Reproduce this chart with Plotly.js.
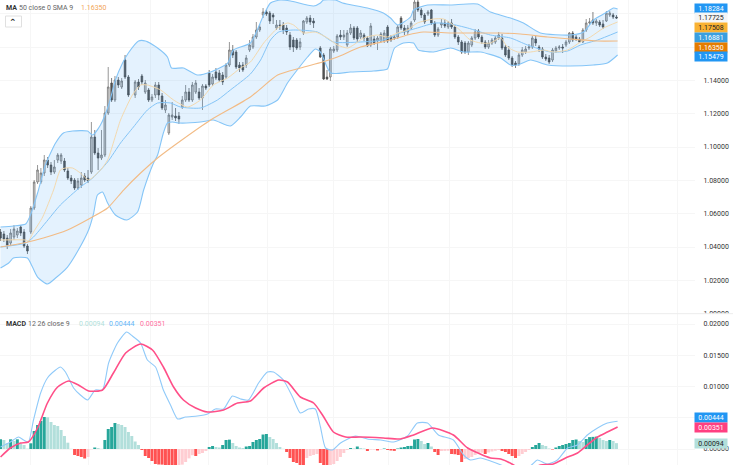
<!DOCTYPE html>
<html><head><meta charset="utf-8">
<script src="https://cdn.plot.ly/plotly-3.0.1.min.js"></script>
<style>html,body{margin:0;padding:0;background:#fff}#c{width:733px;height:465px}</style>
</head><body><div id="c"></div>
<script>
const opens=[1.0490,1.0478,1.0454,1.0424,1.0460,1.0472,1.0520,1.0490,1.0406,1.0490,1.0634,1.0790,1.0790,1.0844,1.0922,1.0892,1.0850,1.0922,1.0916,1.0916,1.0856,1.0814,1.0802,1.0754,1.0772,1.0826,1.0814,1.0850,1.1060,1.0964,1.0934,1.0952,1.1204,1.1384,1.1282,1.1402,1.1360,1.1522,1.1420,1.1312,1.1390,1.1426,1.1330,1.1342,1.1282,1.1312,1.1372,1.1306,1.1222,1.1084,1.1180,1.1186,1.1186,1.1240,1.1282,1.1330,1.1282,1.1330,1.1330,1.1294,1.1366,1.1444,1.1378,1.1450,1.1444,1.1432,1.1420,1.1492,1.1582,1.1570,1.1492,1.1492,1.1492,1.1582,1.1600,1.1660,1.1702,1.1792,1.1810,1.1804,1.1792,1.1714,1.1732,1.1732,1.1714,1.1672,1.1642,1.1642,1.1600,1.1684,1.1750,1.1774,1.1756,1.1594,1.1552,1.1420,1.1420,1.1576,1.1582,1.1672,1.1660,1.1612,1.1684,1.1714,1.1714,1.1660,1.1672,1.1654,1.1612,1.1648,1.1636,1.1636,1.1636,1.1720,1.1660,1.1654,1.1660,1.1774,1.1714,1.1690,1.1714,1.1762,1.1870,1.1822,1.1792,1.1798,1.1822,1.1744,1.1672,1.1732,1.1744,1.1720,1.1744,1.1720,1.1660,1.1630,1.1624,1.1570,1.1612,1.1654,1.1696,1.1660,1.1630,1.1600,1.1624,1.1630,1.1654,1.1654,1.1600,1.1582,1.1534,1.1504,1.1498,1.1552,1.1570,1.1594,1.1600,1.1648,1.1600,1.1588,1.1540,1.1534,1.1522,1.1576,1.1594,1.1600,1.1612,1.1630,1.1684,1.1660,1.1648,1.1630,1.1702,1.1744,1.1762,1.1744,1.1750,1.1738,1.1756,1.1792,1.1792,1.1780];
const highs=[1.0508,1.0496,1.0472,1.0508,1.0532,1.0514,1.0532,1.0508,1.0418,1.0646,1.0802,1.0892,1.0874,1.0952,1.0940,1.0910,1.0922,1.0964,1.0964,1.0934,1.0874,1.0832,1.0814,1.0814,1.0850,1.0844,1.0862,1.1150,1.1102,1.0994,1.1102,1.1246,1.1480,1.1414,1.1426,1.1420,1.1414,1.1552,1.1432,1.1402,1.1408,1.1438,1.1402,1.1354,1.1318,1.1390,1.1390,1.1324,1.1282,1.1204,1.1270,1.1234,1.1210,1.1306,1.1372,1.1354,1.1390,1.1402,1.1354,1.1378,1.1378,1.1462,1.1438,1.1474,1.1462,1.1450,1.1504,1.1630,1.1612,1.1582,1.1510,1.1510,1.1552,1.1642,1.1678,1.1750,1.1738,1.1834,1.1822,1.1816,1.1804,1.1762,1.1762,1.1750,1.1732,1.1690,1.1660,1.1654,1.1654,1.1762,1.1786,1.1792,1.1774,1.1606,1.1564,1.1462,1.1600,1.1606,1.1678,1.1702,1.1702,1.1702,1.1738,1.1726,1.1726,1.1702,1.1684,1.1666,1.1744,1.1666,1.1666,1.1690,1.1702,1.1732,1.1672,1.1672,1.1732,1.1786,1.1732,1.1732,1.1756,1.1882,1.1882,1.1834,1.1804,1.1822,1.1828,1.1756,1.1720,1.1768,1.1768,1.1756,1.1768,1.1732,1.1672,1.1642,1.1636,1.1636,1.1666,1.1708,1.1708,1.1672,1.1642,1.1642,1.1654,1.1666,1.1690,1.1678,1.1612,1.1606,1.1546,1.1516,1.1564,1.1600,1.1606,1.1618,1.1666,1.1666,1.1612,1.1600,1.1558,1.1552,1.1594,1.1606,1.1612,1.1618,1.1642,1.1690,1.1696,1.1672,1.1660,1.1714,1.1768,1.1774,1.1810,1.1768,1.1762,1.1762,1.1816,1.1816,1.1804,1.1792];
const lows=[1.0436,1.0430,1.0388,1.0406,1.0442,1.0454,1.0466,1.0394,1.0358,1.0478,1.0622,1.0778,1.0778,1.0826,1.0874,1.0832,1.0838,1.0904,1.0898,1.0850,1.0802,1.0778,1.0742,1.0742,1.0754,1.0790,1.0784,1.0838,1.0952,1.0862,1.0922,1.0940,1.1192,1.1270,1.1270,1.1354,1.1348,1.1408,1.1300,1.1294,1.1342,1.1372,1.1318,1.1270,1.1270,1.1294,1.1282,1.1222,1.1204,1.1072,1.1162,1.1156,1.1138,1.1228,1.1270,1.1270,1.1270,1.1318,1.1282,1.1222,1.1342,1.1360,1.1366,1.1402,1.1390,1.1372,1.1408,1.1480,1.1534,1.1468,1.1450,1.1450,1.1474,1.1570,1.1588,1.1648,1.1690,1.1774,1.1786,1.1738,1.1738,1.1702,1.1702,1.1678,1.1672,1.1582,1.1570,1.1582,1.1582,1.1672,1.1738,1.1732,1.1714,1.1534,1.1402,1.1402,1.1396,1.1564,1.1570,1.1642,1.1642,1.1600,1.1672,1.1642,1.1630,1.1648,1.1636,1.1600,1.1600,1.1612,1.1582,1.1624,1.1624,1.1624,1.1630,1.1642,1.1648,1.1702,1.1672,1.1672,1.1702,1.1750,1.1810,1.1774,1.1738,1.1786,1.1732,1.1660,1.1660,1.1714,1.1714,1.1708,1.1708,1.1648,1.1612,1.1558,1.1558,1.1552,1.1600,1.1642,1.1648,1.1618,1.1588,1.1588,1.1612,1.1618,1.1642,1.1582,1.1540,1.1522,1.1480,1.1474,1.1486,1.1540,1.1558,1.1582,1.1588,1.1606,1.1570,1.1528,1.1516,1.1498,1.1510,1.1564,1.1582,1.1564,1.1600,1.1618,1.1630,1.1636,1.1624,1.1624,1.1690,1.1732,1.1732,1.1726,1.1720,1.1708,1.1750,1.1780,1.1768,1.1768];
const closes=[1.0454,1.0448,1.0412,1.0484,1.0508,1.0496,1.0484,1.0406,1.0376,1.0634,1.0790,1.0862,1.0844,1.0922,1.0892,1.0850,1.0880,1.0952,1.0952,1.0862,1.0814,1.0796,1.0754,1.0796,1.0814,1.0802,1.0796,1.1060,1.0964,1.0934,1.0952,1.1204,1.1360,1.1282,1.1402,1.1372,1.1396,1.1420,1.1312,1.1390,1.1360,1.1390,1.1384,1.1282,1.1300,1.1372,1.1312,1.1234,1.1252,1.1192,1.1192,1.1174,1.1168,1.1282,1.1330,1.1282,1.1372,1.1384,1.1294,1.1366,1.1354,1.1372,1.1420,1.1414,1.1402,1.1390,1.1492,1.1582,1.1552,1.1480,1.1474,1.1462,1.1534,1.1612,1.1660,1.1702,1.1720,1.1810,1.1798,1.1756,1.1780,1.1732,1.1726,1.1702,1.1690,1.1600,1.1600,1.1594,1.1630,1.1756,1.1774,1.1750,1.1744,1.1540,1.1408,1.1408,1.1588,1.1588,1.1666,1.1660,1.1672,1.1684,1.1714,1.1654,1.1648,1.1684,1.1654,1.1606,1.1726,1.1624,1.1654,1.1678,1.1684,1.1636,1.1642,1.1660,1.1720,1.1714,1.1690,1.1714,1.1744,1.1870,1.1822,1.1792,1.1750,1.1810,1.1744,1.1672,1.1708,1.1744,1.1726,1.1744,1.1720,1.1660,1.1630,1.1570,1.1570,1.1624,1.1654,1.1690,1.1660,1.1630,1.1600,1.1624,1.1642,1.1654,1.1672,1.1594,1.1552,1.1534,1.1492,1.1492,1.1552,1.1582,1.1588,1.1600,1.1654,1.1624,1.1588,1.1540,1.1528,1.1510,1.1582,1.1594,1.1600,1.1594,1.1630,1.1684,1.1642,1.1648,1.1630,1.1702,1.1744,1.1750,1.1744,1.1756,1.1732,1.1720,1.1804,1.1804,1.1780,1.1774];
const histValues=[155,144,91,155,128,155,91,64,5,91,288,384,448,512,507,432,384,368,304,208,101,3,-96,-112,-128,-152,-128,-5,24,16,3,144,320,352,416,400,384,352,272,208,120,64,-16,-112,-144,-192,-240,-248,-250,-258,-266,-274,-282,-270,-250,-208,-150,-100,-112,-80,-64,-32,32,48,32,24,64,144,150,96,48,24,16,40,48,112,144,160,232,240,192,160,96,32,3,-48,-144,-208,-224,-256,-270,-144,-112,-96,-80,-224,-256,-270,-256,-240,-192,-128,-64,-16,16,8,40,16,8,-32,-8,-8,-24,-8,8,-16,-24,-30,8,24,32,48,50,152,160,128,80,96,40,-48,-96,-32,-30,-28,-80,-84,-96,-208,-160,-144,-128,-96,-64,-60,-80,-56,-40,-28,-16,-32,-48,-80,-112,-144,-112,-80,-48,-16,32,64,96,64,48,8,-8,24,48,64,80,96,144,152,128,112,160,190,194,198,176,144,128,144,128,94].map(v=>v/100000);
const closedSlots=[39,94];

const upperX=[0,3.8,7.4,8.8,10.9,13.2,16.2,18.5,21.2,25.6,27.1,29.4,31.8,33.8,35.9,37.6,40.6,42.6,46.2,49.1,50.3,53.8,57.9,61.8,66.8,68.5,73.5,77.4,79.4,82.4,85.3,92.1,94.1,95,98.5,100.6,107.9,112.6,114.7,116.8,120.6,121.5,125.6,132.4,140.3,144.1,150,153.8,158.8,167.6,171.5,174.4,177.9,180.3,181.5];
const upperBand=[1.0520,1.0526,1.0538,1.0592,1.0724,1.0892,1.1024,1.1084,1.1096,1.1096,1.1072,1.1132,1.1252,1.1402,1.1504,1.1564,1.1636,1.1636,1.1594,1.1540,1.1474,1.1474,1.1432,1.1450,1.1504,1.1582,1.1624,1.1792,1.1864,1.1882,1.1876,1.1846,1.1864,1.1882,1.1882,1.1864,1.1834,1.1804,1.1774,1.1732,1.1780,1.1822,1.1852,1.1852,1.1858,1.1810,1.1774,1.1744,1.1684,1.1672,1.1690,1.1762,1.1804,1.1834,1.1828];
const lowerX=[0,2.4,3.8,7.9,9.4,10.9,13.8,16.2,19.7,22.9,25.9,27.4,28.5,30,31.5,33.8,37.1,40.3,42.1,45,46.2,47.9,49.1,50.6,52.4,58.8,62.6,67.6,70.6,73.5,77.9,81.5,84.4,86.8,90.3,92.6,94.1,97.1,102.9,109.7,113.8,114.7,115.9,118.5,121.5,122.9,127.4,132.4,136.2,141.2,147.1,150,152.1,155.9,160.9,167.6,174.4,178.5,181.5];
const lowerBand=[1.0274,1.0304,1.0334,1.0334,1.0280,1.0220,1.0178,1.0214,1.0280,1.0382,1.0502,1.0604,1.0712,1.0730,1.0664,1.0592,1.0562,1.0610,1.0742,1.0904,1.0952,1.1084,1.1144,1.1150,1.1144,1.1150,1.1162,1.1126,1.1180,1.1246,1.1246,1.1282,1.1384,1.1450,1.1540,1.1588,1.1570,1.1444,1.1450,1.1456,1.1468,1.1522,1.1594,1.1624,1.1624,1.1582,1.1570,1.1594,1.1570,1.1570,1.1534,1.1492,1.1492,1.1522,1.1492,1.1486,1.1492,1.1504,1.1552];
const basisX=[0,7.4,9.7,13.2,17.6,23.5,27.1,31.5,35.3,39.1,43.2,46.2,50,52.9,58.8,63.8,67.6,73.5,76.5,79.4,81.8,86.2,93.2,97.9,105.9,112.6,117.6,122.6,127.9,132.4,137.4,144.1,150,155,161.8,166.8,170.6,175.6,181.5];
const basisBand=[1.0400,1.0424,1.0460,1.0544,1.0652,1.0760,1.0814,1.0910,1.1024,1.1120,1.1222,1.1264,1.1264,1.1240,1.1234,1.1282,1.1342,1.1438,1.1522,1.1642,1.1690,1.1702,1.1690,1.1630,1.1630,1.1642,1.1684,1.1714,1.1744,1.1738,1.1714,1.1672,1.1654,1.1612,1.1570,1.1576,1.1612,1.1642,1.1690];
const ma9X=[0,7.4,8.2,9.7,12.4,15.6,17.6,19.1,21.2,23.5,25.9,29.4,31.5,35.3,38.8,41.2,43.2,47.1,50.9,55,58.8,62.6,66.8,70.6,73.5,77.4,81.5,84.4,86.2,89.1,92.6,96.2,99.1,102.1,103.8,106.8,110.9,113.8,116.8,119.7,122.6,127.4,130.3,134.4,138.2,141.2,144.1,147.1,149.1,152.1,155.9,159.7,162.6,166.8,170.6,173.5,177.4,181.5];
const ma9=[1.0442,1.0442,1.0436,1.0490,1.0580,1.0742,1.0862,1.0874,1.0874,1.0844,1.0802,1.0862,1.0922,1.1162,1.1312,1.1372,1.1372,1.1342,1.1282,1.1240,1.1282,1.1372,1.1414,1.1474,1.1510,1.1624,1.1714,1.1744,1.1732,1.1684,1.1690,1.1654,1.1612,1.1594,1.1612,1.1654,1.1672,1.1660,1.1684,1.1702,1.1744,1.1768,1.1768,1.1714,1.1642,1.1624,1.1624,1.1654,1.1600,1.1570,1.1570,1.1582,1.1570,1.1582,1.1630,1.1660,1.1714,1.1750];
const ma50X=[0,6.8,12.6,19.7,26.5,31.5,36.2,41.2,46.2,52.1,61.8,73.5,81.5,88.2,94.7,99.1,105.9,114.7,119.7,124.4,132.4,140.3,147.1,152.9,160.9,167.6,175.6,181.5];
const ma50=[1.0400,1.0424,1.0454,1.0502,1.0574,1.0634,1.0742,1.0844,1.0934,1.1024,1.1162,1.1300,1.1432,1.1474,1.1510,1.1540,1.1600,1.1642,1.1672,1.1690,1.1684,1.1684,1.1684,1.1678,1.1660,1.1648,1.1636,1.1636];
const macdX=[0,2.9,5.3,6.8,8.2,9.7,11.8,13.8,16.2,17.6,19.1,21.5,23.5,25.6,27.9,30,31.8,34.4,37.1,38.8,41.2,43.2,45.6,47.9,50,52.1,54.4,57.9,60.9,63.2,65.6,68.2,70.6,72.9,75.9,78.5,80.3,83.2,85.9,88.2,90.6,92.6,94.1,95.6,97.6,100,104.4,107.9,111.8,115.6,119.7,122.6,125.6,128.8,133.2,136.2,138.2,141.2,144.1,147.9,151.5,154.4,156.5,157.9,160.9,163.8,166.8,169.7,172.6,175.6,178.5,181.5];
const macdLine=[.00032,.00112,.00192,.00144,.00112,.00464,.00896,.01136,.01264,.01312,.01232,.00976,.00864,.00784,.00944,.00944,.01376,.01696,.01872,.01808,.01696,.01424,.01312,.00944,.00704,.00480,.00512,.00528,.00560,.00640,.00640,.00848,.00800,.00784,.01056,.01232,.01232,.01104,.00832,.00576,.00640,.00640,.00352,.00016,-.00016,.00096,.00208,.00160,.00144,.00112,.00208,.00416,.00416,.00224,.00144,-.00096,-.00176,-.00144,-.00192,-.00272,-.00368,-.00336,-.0024,-.00176,-.0024,-.00176,.00016,.00064,.00224,.00336,.00416,.00444];
const signalX=[0,2.9,5.9,8.2,10.9,13.8,16.8,20,22.9,25.9,30,33.2,36.8,41.2,44.7,47.9,50.9,53.8,57.4,60.9,65.6,69.7,73.5,77.4,81.8,84.4,88.2,92.1,94.7,97.9,101.5,105.9,112.6,117.6,121.5,127.1,133.2,137.4,144.1,147.1,150.9,153.8,158.8,162.6,166.2,169.7,172.6,175.6,178.5,181.5];
const signalLine=[-.00128,.00016,.00096,.00112,.00336,.00736,.00992,.01088,.01024,.00928,.00944,.01216,.01536,.01680,.01584,.01312,.00992,.00784,.00656,.00592,.00624,.00736,.00768,.00976,.01104,.01072,.00832,.00736,.00544,.00272,.00192,.00192,.00176,.00160,.00224,.00336,.00224,.00016,-.00144,-.0016,-.00256,-.00368,-.00256,-.0024,-.00144,-.00064,.00064,.00192,.00272,.00351];
const priceTicks=[1.00,1.02,1.04,1.06,1.08,1.10,1.12,1.14,1.16,1.18];
const priceTickText=["1.00000","1.02000","1.04000","1.06000","1.08000","1.10000","1.12000","1.14000","",""];
const macdTicks=[0,0.005,0.01,0.015,0.02];
const macdTickText=["0.00000","","0.01000","0.01500","0.02000"];
const timeGrid=[8.8,25.9,44.1,61.2,78.5,97.9,114.1,132.1,150.6,166.5,184.7,199.1];
const priceTags=["1.18284","1.17725","1.17508","1.16881","1.16350","1.15479"];
const macdTags=["0.00444","0.00351","0.00094"];

const W=733,H=465,FONT='Roboto, "Open Sans", sans-serif',TXT='#333';
const px=x=>x/W, py=y=>1-y/H;
const BAR_STEP=0.99;
const candleX=[];
for(let s=0;candleX.length<opens.length;s++){ if(!closedSlots.includes(s)) candleX.push(s*BAR_STEP); }
const histX=histValues.map((_,i)=>i*BAR_STEP);
const common={mode:'lines',hoverinfo:'skip',showlegend:false};
const BLUE='#85c5f7';
const bandLine={color:BLUE,width:1.1,shape:'spline',smoothing:0.6};
const traces=[
 {...common,x:upperX,y:upperBand,line:bandLine,xaxis:'x',yaxis:'y'},
 {...common,x:lowerX,y:lowerBand,line:bandLine,fill:'tonexty',fillcolor:'rgba(33,150,243,0.12)',xaxis:'x',yaxis:'y'},
 {...common,x:basisX,y:basisBand,line:{color:BLUE,width:1,shape:'spline',smoothing:0.6}},
 {...common,x:ma9X,y:ma9,line:{color:'#f3d9ae',width:1,shape:'spline',smoothing:0.6}},
 {...common,x:ma50X,y:ma50,line:{color:'#f2bb85',width:1.1,shape:'spline',smoothing:0.6}},
 {type:'candlestick',x:candleX,open:opens,high:highs,low:lows,close:closes,whiskerwidth:0,hoverinfo:'skip',showlegend:false,
  increasing:{line:{color:'#6a6a6a',width:0.7},fillcolor:'#d4d4d4'},
  decreasing:{line:{color:'#4a4a4a',width:0.7},fillcolor:'#555555'},xaxis:'x',yaxis:'y'},
 {type:'bar',x:histX,y:histValues,xaxis:'x2',yaxis:'y2',hoverinfo:'skip',showlegend:false,
  marker:{line:{width:0},color:histValues.map((v,i)=>{const p=i?histValues[i-1]:0;
    return v>=0?(v>=p?'#26a69a':'#b2dfdb'):(v<p?'#ff5252':'#ffcdd2');})}},
 {...common,x:macdX,y:macdLine,xaxis:'x2',yaxis:'y2',line:{color:'#90caf9',width:1.1,shape:'spline',smoothing:0.6}},
 {...common,x:signalX,y:signalLine,xaxis:'x2',yaxis:'y2',line:{color:'#ff4f88',width:1.6,shape:'spline',smoothing:0.6}}
];
const xr=[-0.15,695/3.4-0.15];
const xa={range:xr,tickmode:'array',tickvals:timeGrid,showticklabels:false,showgrid:true,gridcolor:'#f6f6f6',gridwidth:1,zeroline:false,showline:false,ticks:'',fixedrange:true};
const ya={side:'right',tickmode:'array',showgrid:true,gridcolor:'#f6f6f6',gridwidth:1,zeroline:false,showline:false,ticks:'outside',ticklen:6,tickcolor:'rgba(0,0,0,0)',tickfont:{family:FONT,size:7,color:TXT},fixedrange:true};
const tag=(text,y,bg,color)=>({xref:'paper',yref:'paper',x:px(711),y:py(y),text,showarrow:false,xanchor:'center',yanchor:'middle',width:32,height:9.3,bgcolor:bg,borderpad:0,font:{family:FONT,size:7,color}});
const label=(text,x,y,color,bold)=>({xref:'paper',yref:'paper',x:px(x),y:py(y),text:bold?'<b>'+text+'</b>':text,showarrow:false,xanchor:'left',yanchor:'middle',borderpad:0,font:{family:FONT,size:7,color}});
const priceTagStyle=[[8.5,'#2196f3','#fff'],[18,'#f5f5f5','#222'],[28,'#f9b233','#222'],[37.5,'#3a9fe0','#fff'],[47.5,'#e57c00','#fff'],[57,'#2196f3','#fff']];
const macdTagStyle=[[417.5,'#2196f3','#fff'],[427.5,'#ff4081','#fff'],[443.5,'#b2dfdb','#222']];
const layout={width:W,height:H,margin:{l:0,r:0,t:0,b:0},paper_bgcolor:'#fff',plot_bgcolor:'#fff',showlegend:false,barmode:'overlay',bargap:0.12,
 xaxis:{...xa,domain:[0,695/W],anchor:'y',rangeslider:{visible:false}},
 xaxis2:{...xa,domain:[0,695/W],anchor:'y2'},
 yaxis:{...ya,domain:[py(313.7),1],range:[1.0,1.1882],tickvals:priceTicks,ticktext:priceTickText},
 yaxis2:{...ya,domain:[0,py(314)],range:[-0.00256,0.0216],tickvals:macdTicks,ticktext:macdTickText},
 shapes:[
  {type:'rect',xref:'paper',yref:'paper',x0:px(695),x1:1,y0:py(313.5),y1:py(318.5),fillcolor:'#fff',line:{width:0},layer:'above'},
  {type:'line',xref:'paper',yref:'paper',x0:0,x1:1,y0:py(313.7),y1:py(313.7),line:{color:'#ececec',width:1},layer:'above'},
  {type:'rect',xref:'paper',yref:'paper',x0:px(5.5),x1:px(21.5),y0:py(16),y1:py(27),fillcolor:'#fff',line:{color:'#e0e0e0',width:1},layer:'above'}
 ],
 annotations:[
  label('MA',5,8,'#333',true),label('50 close 0 SMA 9',17.5,8,'#666'),label('1.16350',80,8,'#f2a65a'),
  {xref:'paper',yref:'paper',x:px(13.5),y:py(22.5),text:'<b>⌃</b>',showarrow:false,xanchor:'center',yanchor:'middle',font:{family:'"DejaVu Sans"',size:9,color:'#333'}},
  label('MACD',5,323.5,'#333',true),label('12 26 close 9',27,323.5,'#666'),
  label('0.00094',78,323.5,'#b2dfdb'),label('0.00444',108,323.5,'#64b5f6'),label('0.00351',138.5,323.5,'#ff6f9f'),
  ...priceTags.map((t,i)=>tag(t,...priceTagStyle[i])),
  ...macdTags.map((t,i)=>tag(t,...macdTagStyle[i]))
 ]};
Plotly.newPlot('c',traces,layout,{displayModeBar:false,staticPlot:true});
</script></body></html>
